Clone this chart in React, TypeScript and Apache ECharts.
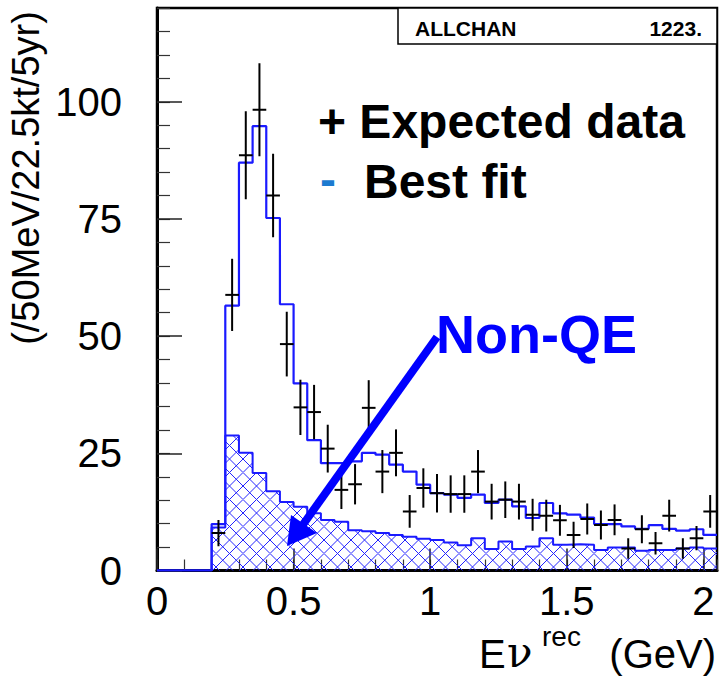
import React, { useEffect, useRef } from 'react';
import * as echarts from 'echarts';

// Bin edges (GeV), 50 MeV bins
const binEdges = [
  0.20, 0.25, 0.30, 0.35, 0.40, 0.45, 0.50, 0.55, 0.60, 0.65,
  0.70, 0.75, 0.80, 0.85, 0.90, 0.95, 1.00, 1.05, 1.10, 1.15,
  1.20, 1.25, 1.30, 1.35, 1.40, 1.45, 1.50, 1.55, 1.60, 1.65,
  1.70, 1.75, 1.80, 1.85, 1.90, 1.95, 2.00, 2.05,
];

// Best fit (total) histogram per bin
const bestFit = [
  9.9, 56.5, 87.0, 94.8, 75.2, 56.8, 39.9, 27.8, 22.9, 22.9,
  23.3, 25.1, 24.7, 22.6, 21.1, 18.3, 16.5, 16.2, 15.5, 16.2,
  14.4, 15.1, 13.7, 11.2, 14.4, 12.2, 11.9, 11.3, 9.9, 9.9,
  9.4, 8.9, 9.7, 8.9, 8.5, 8.8, 7.6,
];

// Non-QE component per bin
const nonQE = [
  9.2, 28.8, 25.1, 20.8, 16.9, 14.6, 13.6, 12.2, 10.8, 10.4,
  8.6, 8.4, 8.0, 7.6, 7.2, 6.8, 6.5, 6.0, 5.4, 6.9,
  4.6, 6.2, 4.6, 5.1, 6.9, 5.5, 5.6, 5.5, 4.4, 4.9,
  4.9, 4.2, 4.4, 4.4, 4.7, 4.9, 4.7,
];

// Expected data per bin and its error
const expectedData = [
  8.0, 58.8, 88.6, 98.3, 80.0, 48.3, 34.8, 33.8, 26.0, 17.2,
  18.4, 34.7, 21.1, 25.1, 12.6, 17.6, 16.5, 16.3, 16.3, 21.1,
  14.7, 15.1, 14.7, 11.9, 11.7, 10.7, 7.6, 11.0, 9.7, 10.8,
  4.7, 8.8, 5.8, 11.7, 4.7, 6.9, 12.6,
];
const expectedErr = [
  2.8, 7.7, 9.4, 9.9, 8.9, 6.9, 5.9, 5.8, 5.1, 4.1,
  4.3, 5.9, 4.6, 5.0, 3.5, 4.2, 4.1, 4.0, 4.0, 4.6,
  3.8, 3.9, 3.8, 3.4, 3.4, 3.3, 2.8, 3.3, 3.1, 3.3,
  2.2, 3.0, 2.4, 3.4, 2.2, 2.6, 3.5,
];

const SANS = '"Liberation Sans", Arial, Helvetica, sans-serif';
const BLUE = '#1a1aff';

const hatchSvg =
  '<svg xmlns="http://www.w3.org/2000/svg" width="27" height="27">' +
  '<path d="M0 0L27 27M13.5 0L27 13.5M0 13.5L13.5 27M27 0L0 27M13.5 0L0 13.5M27 13.5L13.5 27" ' +
  'stroke="#2323ff" stroke-width="1" fill="none"/></svg>';
const hatchUrl = 'data:image/svg+xml;charset=utf-8,' + encodeURIComponent(hatchSvg);

function stepData(vals: number[]) {
  const d: number[][] = [[0, 0]];
  for (let i = 0; i < vals.length; i++) d.push([binEdges[i], vals[i]]);
  d.push([binEdges[vals.length], vals[vals.length - 1]]);
  return d;
}

function txt(text: string, x: number, y: number, font: string, fill: string, align = 'left', extra: any = {}) {
  return {
    type: 'text',
    z: 100,
    x,
    y,
    ...extra,
    style: {
      text,
      font,
      fill,
      align,
      textAlign: align,
      verticalAlign: 'middle',
      textVerticalAlign: 'middle',
    },
  };
}

export default function App() {
  const ref = useRef<HTMLDivElement>(null);

  useEffect(() => {
    if (!ref.current) return;
    const chart = echarts.init(ref.current, undefined, { renderer: 'svg' });

    const errData = expectedData.map((v, i) => [binEdges[i], binEdges[i + 1], v, expectedErr[i]]);

    const tickStyleMinor = { color: '#333', width: 1.2 };
    const tickStyleMajor = { color: '#222', width: 1.5 };

    const option: any = {
      animation: false,
      backgroundColor: '#fff',
      grid: {
        left: 157,
        top: 8,
        width: 560,
        height: 562.5,
        show: true,
        borderColor: '#000',
        borderWidth: 2.5,
        backgroundColor: 'transparent',
      },
      xAxis: [
        {
          type: 'value',
          min: 0,
          max: 2.05,
          interval: 0.1,
          position: 'bottom',
          axisLine: { show: true, onZero: false, lineStyle: { color: '#000', width: 3 } },
          axisTick: { show: true, inside: true, length: 11, lineStyle: tickStyleMinor },
          axisLabel: { show: false },
          splitLine: { show: false },
        },
        {
          type: 'value',
          min: 0,
          max: 2.05,
          interval: 0.5,
          position: 'bottom',
          axisLine: { show: false, onZero: false },
          axisTick: { show: true, inside: true, length: 22, lineStyle: tickStyleMajor },
          axisLabel: {
            show: true,
            showMaxLabel: false,
            fontSize: 40,
            fontFamily: SANS,
            color: '#000',
            margin: 10,
            formatter: (v: number) => String(v),
          },
          splitLine: { show: false },
        },
      ],
      yAxis: [
        {
          type: 'value',
          min: 0,
          max: 120,
          interval: 5,
          position: 'left',
          axisLine: { show: true, onZero: false, lineStyle: { color: '#000', width: 3 } },
          axisTick: { show: true, inside: true, length: 13, lineStyle: tickStyleMinor },
          axisLabel: { show: false },
          splitLine: { show: false },
        },
        {
          type: 'value',
          min: 0,
          max: 120,
          interval: 25,
          position: 'left',
          axisLine: { show: false, onZero: false },
          axisTick: { show: true, inside: true, length: 25, lineStyle: tickStyleMajor },
          axisLabel: {
            show: true,
            showMaxLabel: false,
            fontSize: 40,
            fontFamily: SANS,
            color: '#000',
            margin: 35,
          },
          splitLine: { show: false },
        },
      ],
      series: [
        {
          type: 'line',
          name: 'Non-QE',
          xAxisIndex: 0,
          yAxisIndex: 0,
          step: 'end',
          symbol: 'none',
          data: stepData(nonQE),
          lineStyle: { color: BLUE, width: 2 },
          areaStyle: {
            color: { image: hatchUrl, repeat: 'repeat', imageWidth: 27, imageHeight: 27 },
            opacity: 1,
          },
          z: 2,
        },
        {
          type: 'line',
          name: 'Best fit',
          xAxisIndex: 0,
          yAxisIndex: 0,
          step: 'end',
          symbol: 'none',
          data: stepData(bestFit),
          lineStyle: { color: BLUE, width: 2.2 },
          z: 3,
        },
        {
          type: 'custom',
          name: 'Expected data',
          xAxisIndex: 0,
          yAxisIndex: 0,
          clip: true,
          z: 4,
          data: errData,
          encode: { x: [0, 1], y: [2] },
          renderItem: (params: any, api: any) => {
            const lo = api.value(0);
            const hi = api.value(1);
            const v = api.value(2);
            const e = api.value(3);
            const pl = api.coord([lo, v]);
            const pr = api.coord([hi, v]);
            const mid = (pl[0] + pr[0]) / 2;
            const pt = api.coord([lo, v + e]);
            const pb = api.coord([lo, Math.max(0, v - e)]);
            return {
              type: 'group',
              children: [
                {
                  type: 'line',
                  shape: { x1: pl[0], y1: pl[1], x2: pr[0], y2: pr[1] },
                  style: { stroke: '#000', lineWidth: 2 },
                },
                {
                  type: 'line',
                  shape: { x1: mid, y1: pt[1], x2: mid, y2: pb[1] },
                  style: { stroke: '#000', lineWidth: 2 },
                },
              ],
            };
          },
        },
      ],
      graphic: [
        {
          type: 'rect',
          z: 100,
          shape: { x: 398, y: 8, width: 319, height: 36 },
          style: { fill: '#fff', stroke: '#000', lineWidth: 1.5 },
        },
        txt('ALLCHAN', 415, 28, `bold 21px ${SANS}`, '#000'),
        txt('1223.', 702, 28, `bold 21px ${SANS}`, '#000', 'right'),
        txt('+ Expected data', 318, 121, `bold 48px ${SANS}`, '#000'),
        txt('-', 320, 179, `bold 48px ${SANS}`, '#1c7ad0'),
        txt('Best fit', 364, 181, `bold 48px ${SANS}`, '#000'),
        txt('Non-QE', 436, 334, `bold 54px ${SANS}`, '#0000ff'),
        txt('(/50MeV/22.5kt/5yr)', 26, 178, `38px ${SANS}`, '#000', 'center', { rotation: Math.PI / 2 }),
        txt('E', 479, 654, `40px ${SANS}`, '#000'),
        txt('\u03bd', 507, 652, `42px "DejaVu Serif", "Liberation Serif", serif`, '#000'),
        txt('rec', 542, 636, `28px ${SANS}`, '#000'),
        txt('(GeV)', 716, 654, `40px ${SANS}`, '#000', 'right'),
        {
          type: 'line',
          z: 101,
          shape: { x1: 437, y1: 337, x2: 302, y2: 526 },
          style: { stroke: '#0000ff', lineWidth: 8 },
        },
        {
          type: 'polygon',
          z: 101,
          shape: { points: [[287, 546], [291, 515], [317, 533]] },
          style: { fill: '#0000ff' },
        },
      ],
    };

    chart.setOption(option);
    return () => chart.dispose();
  }, []);

  return (
    <div
      ref={ref}
      style={{ position: 'absolute', left: 0, top: 0, width: 720, height: 677, background: '#fff' }}
    />
  );
}
